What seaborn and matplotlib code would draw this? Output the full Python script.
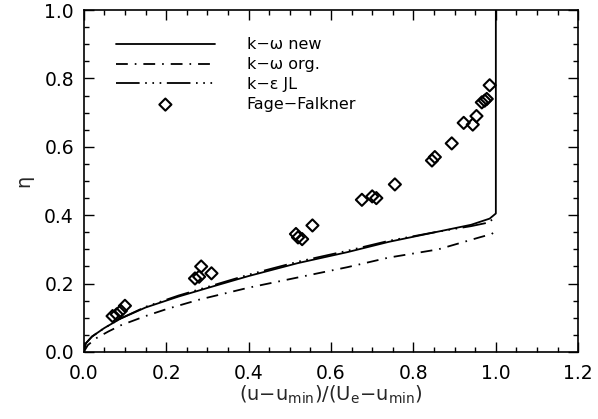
import matplotlib
matplotlib.use("Agg")
import matplotlib.pyplot as plt
from matplotlib.ticker import MultipleLocator, FormatStrFormatter
import seaborn as sns

# k-omega new (ends with a vertical rise at the edge)
new_x = [0.0, 0.005, 0.02, 0.05, 0.09, 0.15, 0.23, 0.30, 0.40, 0.52, 0.64, 0.74, 0.86, 0.94, 0.985, 1.0, 1.0]
new_y = [0.0, 0.025, 0.045, 0.07, 0.098, 0.13, 0.162, 0.187, 0.222, 0.26, 0.292, 0.322, 0.352, 0.372, 0.39, 0.405, 1.0]

# k-omega original
org_x = [0.0, 0.01, 0.03, 0.06, 0.09, 0.15, 0.20, 0.28, 0.40, 0.52, 0.64, 0.74, 0.86, 0.96, 0.99, 1.0]
org_y = [0.0, 0.02, 0.04, 0.06, 0.078, 0.105, 0.125, 0.153, 0.188, 0.218, 0.248, 0.276, 0.30, 0.335, 0.345, 0.355]

# k-epsilon JL
jl_x = [0.0, 0.005, 0.02, 0.05, 0.09, 0.15, 0.23, 0.30, 0.40, 0.52, 0.64, 0.74, 0.86, 0.94, 0.98, 0.995]
jl_y = [0.0, 0.025, 0.045, 0.07, 0.098, 0.132, 0.165, 0.19, 0.226, 0.264, 0.296, 0.325, 0.352, 0.368, 0.378, 0.39]

# Fage-Falkner measurements
ff_x = [0.07, 0.08, 0.09, 0.10, 0.27, 0.28, 0.285, 0.31, 0.515, 0.52, 0.53, 0.555,
        0.675, 0.70, 0.71, 0.755, 0.845, 0.852, 0.893, 0.922, 0.944, 0.953, 0.966, 0.973, 0.978, 0.985]
ff_y = [0.105, 0.11, 0.12, 0.135, 0.215, 0.22, 0.25, 0.23, 0.345, 0.335, 0.33, 0.37,
        0.445, 0.455, 0.45, 0.49, 0.56, 0.57, 0.61, 0.67, 0.665, 0.69, 0.73, 0.735, 0.74, 0.78]

sns.set_style("ticks")
plt.rcParams["font.family"] = ["DejaVu Sans"]
plt.rcParams["lines.scale_dashes"] = False

fig = plt.figure(figsize=(5.98, 4.19), dpi=100)
ax = fig.add_axes([0.140, 0.160, 0.827, 0.816])

sns.lineplot(x=new_x, y=new_y, ax=ax, color="black", lw=1.3, sort=False,
             estimator=None, label="k\u2212\u03c9 new")
sns.lineplot(x=org_x, y=org_y, ax=ax, color="black", lw=1.3, sort=False,
             estimator=None, linestyle=(0, (8.5, 5.0, 1.2, 5.0)), label="k\u2212\u03c9 org.")
sns.lineplot(x=jl_x, y=jl_y, ax=ax, color="black", lw=1.3, sort=False,
             estimator=None, linestyle=(0, (17, 4, 1.2, 4, 1.2, 4, 1.2, 4)), label="k\u2212\u03b5 JL")
sns.scatterplot(x=ff_x, y=ff_y, ax=ax, marker="D", s=38, facecolor="none",
                edgecolor="black", linewidth=1.5, label="Fage\u2212Falkner", zorder=3)

ax.set_xlim(0, 1.2)
ax.set_ylim(0, 1.0)
ax.xaxis.set_major_locator(MultipleLocator(0.2))
ax.xaxis.set_minor_locator(MultipleLocator(0.05))
ax.yaxis.set_major_locator(MultipleLocator(0.2))
ax.yaxis.set_minor_locator(MultipleLocator(0.05))
ax.xaxis.set_major_formatter(FormatStrFormatter("%.1f"))
ax.yaxis.set_major_formatter(FormatStrFormatter("%.1f"))
ax.tick_params(which="both", direction="in", top=True, right=True, colors="black",
               labelsize=13.5, width=1.0)
ax.tick_params(which="major", length=7, pad=7)
ax.tick_params(axis="x", which="major", pad=9)
ax.tick_params(which="minor", length=3.5)
for sp in ax.spines.values():
    sp.set_linewidth(1.2)
    sp.set_color("black")

ax.set_xlabel("(u\u2212u$_{\\rm min}$)/(U$_{\\rm e}$\u2212u$_{\\rm min}$)", fontsize=14, labelpad=0)
ax.set_ylabel("\u03b7", fontsize=14, labelpad=8)

leg = ax.legend(loc="upper left", bbox_to_anchor=(0.065, 0.92), frameon=False,
                fontsize=11.5, handlelength=6.2, handletextpad=2.0, labelspacing=0.3,
                borderpad=0, borderaxespad=0)
for t in leg.get_texts():
    t.set_color("black")

fig.savefig("out.png", dpi=100)
